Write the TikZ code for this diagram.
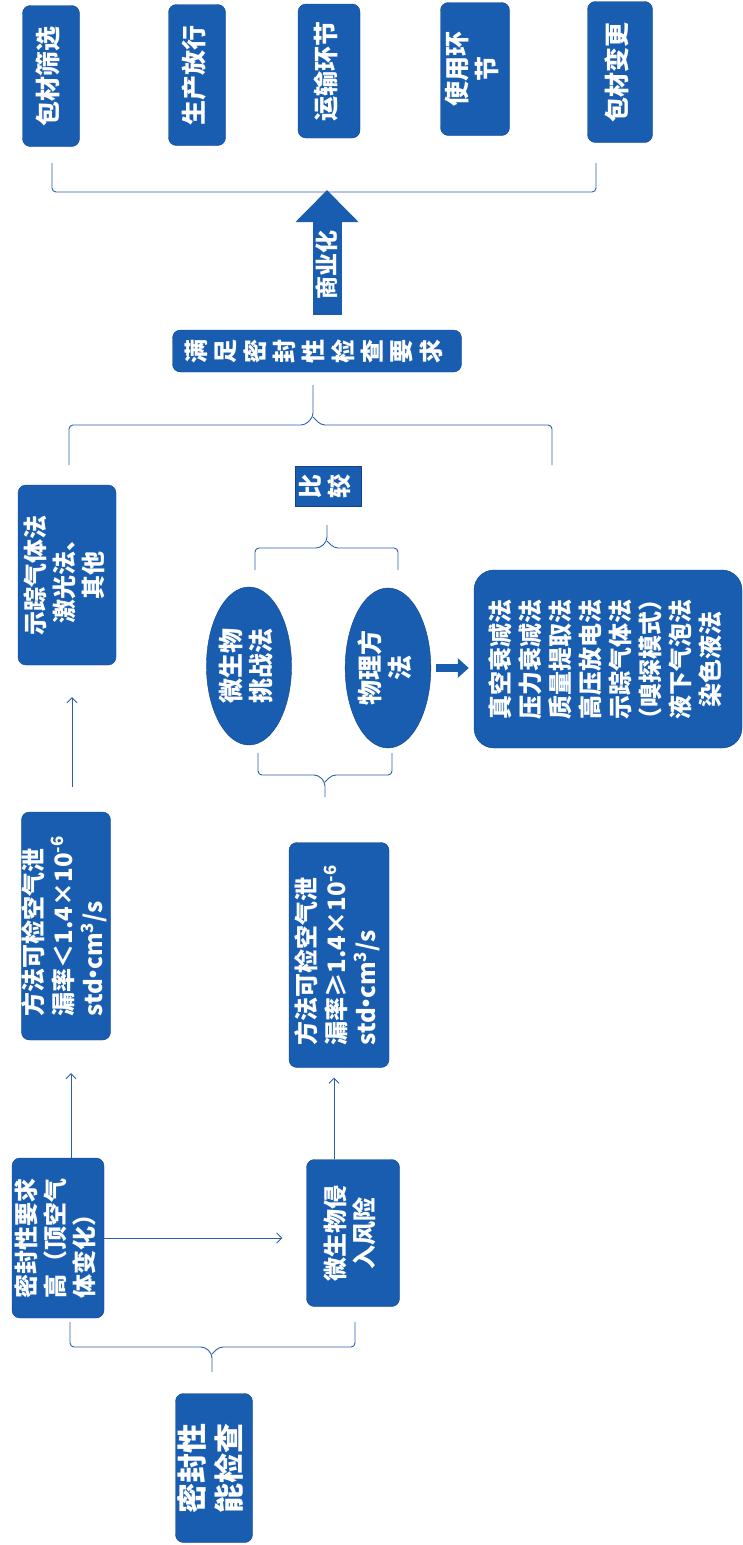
\documentclass[tikz,border=0pt]{standalone}
\usepackage{fontspec}
\setmainfont{Noto Sans CJK SC}
\usepackage{graphicx}
\usetikzlibrary{arrows.meta,shapes.geometric}

\definecolor{boxblue}{RGB}{24,93,176}
\definecolor{edgeblue}{RGB}{18,66,140}
\definecolor{lineblue}{RGB}{45,95,175}

% text turned a quarter left, lines stacked left to right
\newcommand{\vtext}[2][c]{\rotatebox{90}{\begin{tabular}{@{}#1@{}}#2\end{tabular}}}
\newcommand{\unitdot}{\kern-.32em·\kern-.32em}

\tikzset{
  block/.style={draw=edgeblue, fill=boxblue, text=white, rounded corners=8pt,
                inner sep=0pt, font=\bfseries\fontsize{24}{28}\selectfont},
  oval/.style={block, ellipse, sharp corners},
  toptext/.style={font=\bfseries\fontsize{25}{29}\selectfont},
  roottext/.style={font=\bfseries\fontsize{30}{36}\selectfont},
  flow/.style={draw=lineblue, line width=0.9pt, -{Straight Barb[length=5pt,width=10pt]}},
  bracket/.style={draw=lineblue, line width=0.9pt, rounded corners=4pt},
}

\begin{document}
\begin{tikzpicture}[x=1pt,y=-1pt]
  \fill[white] (0,0) rectangle (743,1545);

  % packaging stages
  \node[block, toptext, minimum width=57pt, minimum height=141pt] (pk1) at (51,76)  {\vtext{包材筛选}};
  \node[block, toptext, minimum width=57pt, minimum height=141pt] (pk2) at (197,75) {\vtext{生产放行}};
  \node[block, toptext, minimum width=62pt, minimum height=134pt] (pk3) at (329,71) {\vtext{运输环节}};
  \node[block, toptext, minimum width=69pt, minimum height=133pt] (pk4) at (475,69) {\vtext{使用环\\节}};
  \node[block, toptext, minimum width=65pt, minimum height=141pt] (pk5) at (620,72) {\vtext{包材变更}};

  \node[block, font=\bfseries\fontsize{24}{29}\selectfont, minimum width=289pt, minimum height=42pt]
       (sat) at (317,351) {\vtext{满\\足\\密\\封\\性\\检\\查\\要\\求}};
  \node[block, font=\bfseries\fontsize{24}{29}\selectfont, sharp corners, minimum width=66pt, minimum height=40pt]
       (cmp) at (328,486) {\vtext{比\\较}};

  \node[block, minimum width=98pt, minimum height=180pt] (trace) at (67,575) {\vtext{示踪气体法\\激光法、\\其他}};
  \node[oval, font=\bfseries\fontsize{25}{29}\selectfont, minimum width=76pt, minimum height=158pt] (ell1) at (249,666) {\vtext{微生物\\挑战法}};
  \node[oval, font=\bfseries\fontsize{25}{29}\selectfont, minimum width=71pt, minimum height=160pt] (ell2) at (388,668) {\vtext{物理方\\法}};
  \node[block, rounded corners=20pt, font=\bfseries\fontsize{24}{30}\selectfont,
        minimum width=268pt, minimum height=178pt] (big) at (608,659)
       {\vtext{真空衰减法\\压力衰减法\\质量提取法\\高压放电法\\示踪气体法\\（嗅探模式）\\液下气泡法\\染色液法}};

  \node[block, minimum width=89pt, minimum height=228pt] (lt) at (66,926)
       {\vtext[l]{方法可检空气泄\\漏率＜1.4×10\textsuperscript{-6}\\std\unitdot cm\textsuperscript{3}/s}};
  \node[block, minimum width=100pt, minimum height=225pt] (ge) at (339,955)
       {\vtext[l]{方法可检空气泄\\漏率≥1.4×10\textsuperscript{-6}\\std\unitdot cm\textsuperscript{3}/s}};

  \node[block, minimum width=92pt, minimum height=160pt] (req) at (58,1238) {\vtext[l]{密封性要求\\高（顶空气\\体变化）}};
  \node[block, minimum width=93pt, minimum height=147pt] (risk) at (353,1233) {\vtext{微生物侵\\入风险}};
  \node[block, roottext, minimum width=77pt, minimum height=149pt] (root) at (214,1468) {\vtext{密封性\\能检查}};

  % arrows
  \draw[flow] (req.east) -- (req.east -| risk.west) [shorten >=24pt];
  \draw[flow, shorten >=33pt] ([xshift=13pt]req.north) -- ([xshift=13pt]req.north |- lt.south);
  \draw[flow, shorten >=10pt] ([xshift=-19pt]risk.north) -- ([xshift=-19pt]risk.north |- ge.south);
  \draw[flow, shorten <=25pt, shorten >=32pt] ([xshift=6pt]lt.north) -- ([xshift=6pt]lt.north |- trace.south);
  \draw[boxblue, line width=8pt, -{Triangle[length=11pt,width=19pt]}, shorten <=5pt, shorten >=5pt]
       (ell2.east) -- (ell2.east -| big.west);

  \coordinate (apex) at (327,190);
  \draw[boxblue, line width=29pt, -{Triangle[length=32pt,width=61pt]}, shorten <=15pt]
       (apex |- sat.north) -- (apex)
       node[pos=0.46, rotate=90, text=white, font=\bfseries\fontsize{23}{26}\selectfont] (biz) {商业化};

  % braces
  \draw[bracket] (52,163) -- (52,192) -- (596,192) -- (596,163);
  \draw[bracket] (69,465) -- (69,425) -- (305,425) -- (313,417) -- (313,385);
  \draw[bracket] (313,417) -- (321,425) -- (552,425) -- (552,465);
  \draw[bracket] (255,570) -- (255,548) -- (320,548) -- (327,541) -- (327,525);
  \draw[bracket] (327,541) -- (334,548) -- (398,548) -- (398,570);
  \draw[bracket] (258,753) -- (258,775) -- (318,775) -- (325,782) -- (325,797);
  \draw[bracket] (325,782) -- (332,775) -- (392,775) -- (392,753);
  \draw[bracket] (70,1322) -- (70,1347) -- (205,1347) -- (212,1354) -- (212,1372);
  \draw[bracket] (212,1354) -- (219,1347) -- (355,1347) -- (355,1322);
\end{tikzpicture}
\end{document}
